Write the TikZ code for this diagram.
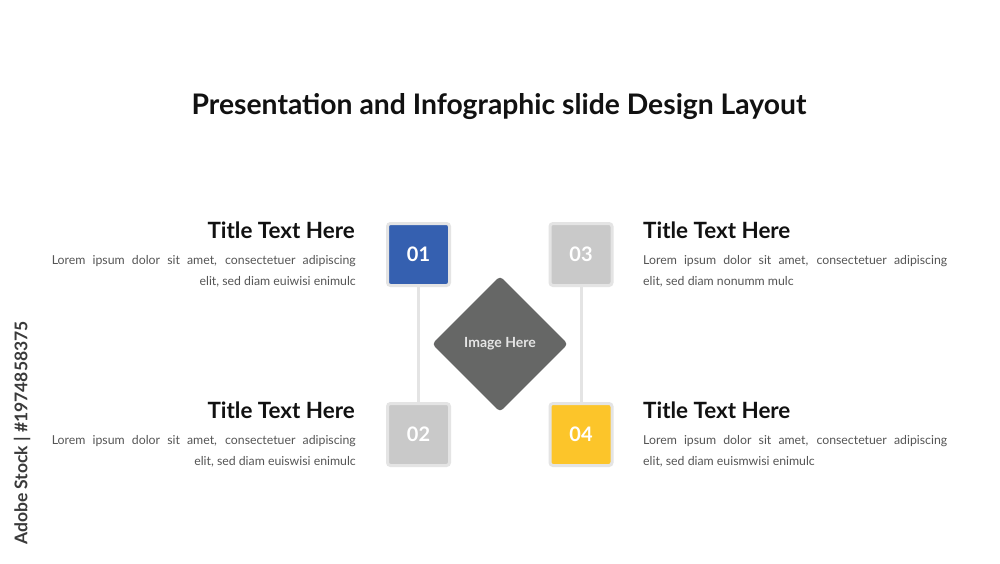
\documentclass[tikz,border=0pt]{standalone}
\usepackage{fontspec}
\setmainfont{Lato}
\usetikzlibrary{shapes.geometric}
\definecolor{blueC}{HTML}{3560B0}
\definecolor{grayC}{HTML}{C9C9C9}
\definecolor{yellowC}{HTML}{FCC52A}
\definecolor{rimC}{HTML}{E4E4E4}
\definecolor{darkC}{HTML}{666766}
\definecolor{bodyC}{HTML}{555555}
\definecolor{titleC}{HTML}{111111}
\definecolor{markC}{HTML}{3A3A3A}
\begin{document}
\begin{tikzpicture}[x=1pt,y=-1pt,
  numbox/.style={draw=rimC, line width=3pt, rounded corners=3pt, minimum size=62pt, inner sep=0pt,
    text=white, font=\fontsize{20}{20}\selectfont\bfseries},
  conn/.style={draw=rimC, line width=3pt},
  ttl/.style={font=\fontsize{22.4}{22.4}\selectfont\bfseries, text=titleC, inner sep=0pt},
  bodyR/.style={font=\fontsize{12.3}{21}\selectfont, text=bodyC, inner sep=0pt, align=right},
  bodyL/.style={font=\fontsize{12.3}{21}\selectfont, text=bodyC, inner sep=0pt, align=left},
]
\useasboundingbox[fill=white] (0,0) rectangle (1000,563);
\node[font=\fontsize{28.3}{28.3}\selectfont\bfseries, text=titleC, inner sep=0pt, anchor=base] (head) at (499,114) {Presentation and Infographic slide Design Layout};
\node[numbox, fill=blueC] (b1) at (418.5,254.5) {01};
\node[numbox, fill=grayC] (b2) at (418.5,434.5) {02};
\node[numbox, fill=grayC] (b3) at (581,254.5) {03};
\node[numbox, fill=yellowC] (b4) at (581,434.5) {04};
\draw[conn] (b1.south) -- (b2.north);
\draw[conn] (b3.south) -- (b4.north);
\node[diamond, fill=darkC, minimum width=136pt, minimum height=136pt, inner sep=0pt, rounded corners=4pt,
  text=white!90!black, font=\fontsize{14}{14}\selectfont\bfseries] (img) at (500,344) {Image Here};
\node[ttl, anchor=base east] (t1) at (355,238) {Title Text Here};
\node[ttl, anchor=base east] (t2) at (355,418) {Title Text Here};
\node[ttl, anchor=base west] (t3) at (643,238) {Title Text Here};
\node[ttl, anchor=base west] (t4) at (643,418) {Title Text Here};
\node[bodyR, anchor=base east] (d1) at (356,285) {\makebox[304pt][s]{Lorem ipsum dolor sit amet, consectetuer adipiscing}\\elit, sed diam euiwisi enimulc};
\node[bodyR, anchor=base east] (d2) at (356,465) {\makebox[304pt][s]{Lorem ipsum dolor sit amet, consectetuer adipiscing}\\elit, sed diam euiswisi enimulc};
\node[bodyL, anchor=base west] (d3) at (643,285) {\makebox[304pt][s]{Lorem ipsum dolor sit amet, consectetuer adipiscing}\\elit, sed diam nonumm mulc};
\node[bodyL, anchor=base west] (d4) at (643,465) {\makebox[304pt][s]{Lorem ipsum dolor sit amet, consectetuer adipiscing}\\elit, sed diam euismwisi enimulc};
\node[rotate=90, font=\fontsize{17.5}{17.5}\selectfont\bfseries, text=markC, inner sep=0pt] (mark) at (22,433) {Adobe Stock | \#1974858375};
\end{tikzpicture}
\end{document}
